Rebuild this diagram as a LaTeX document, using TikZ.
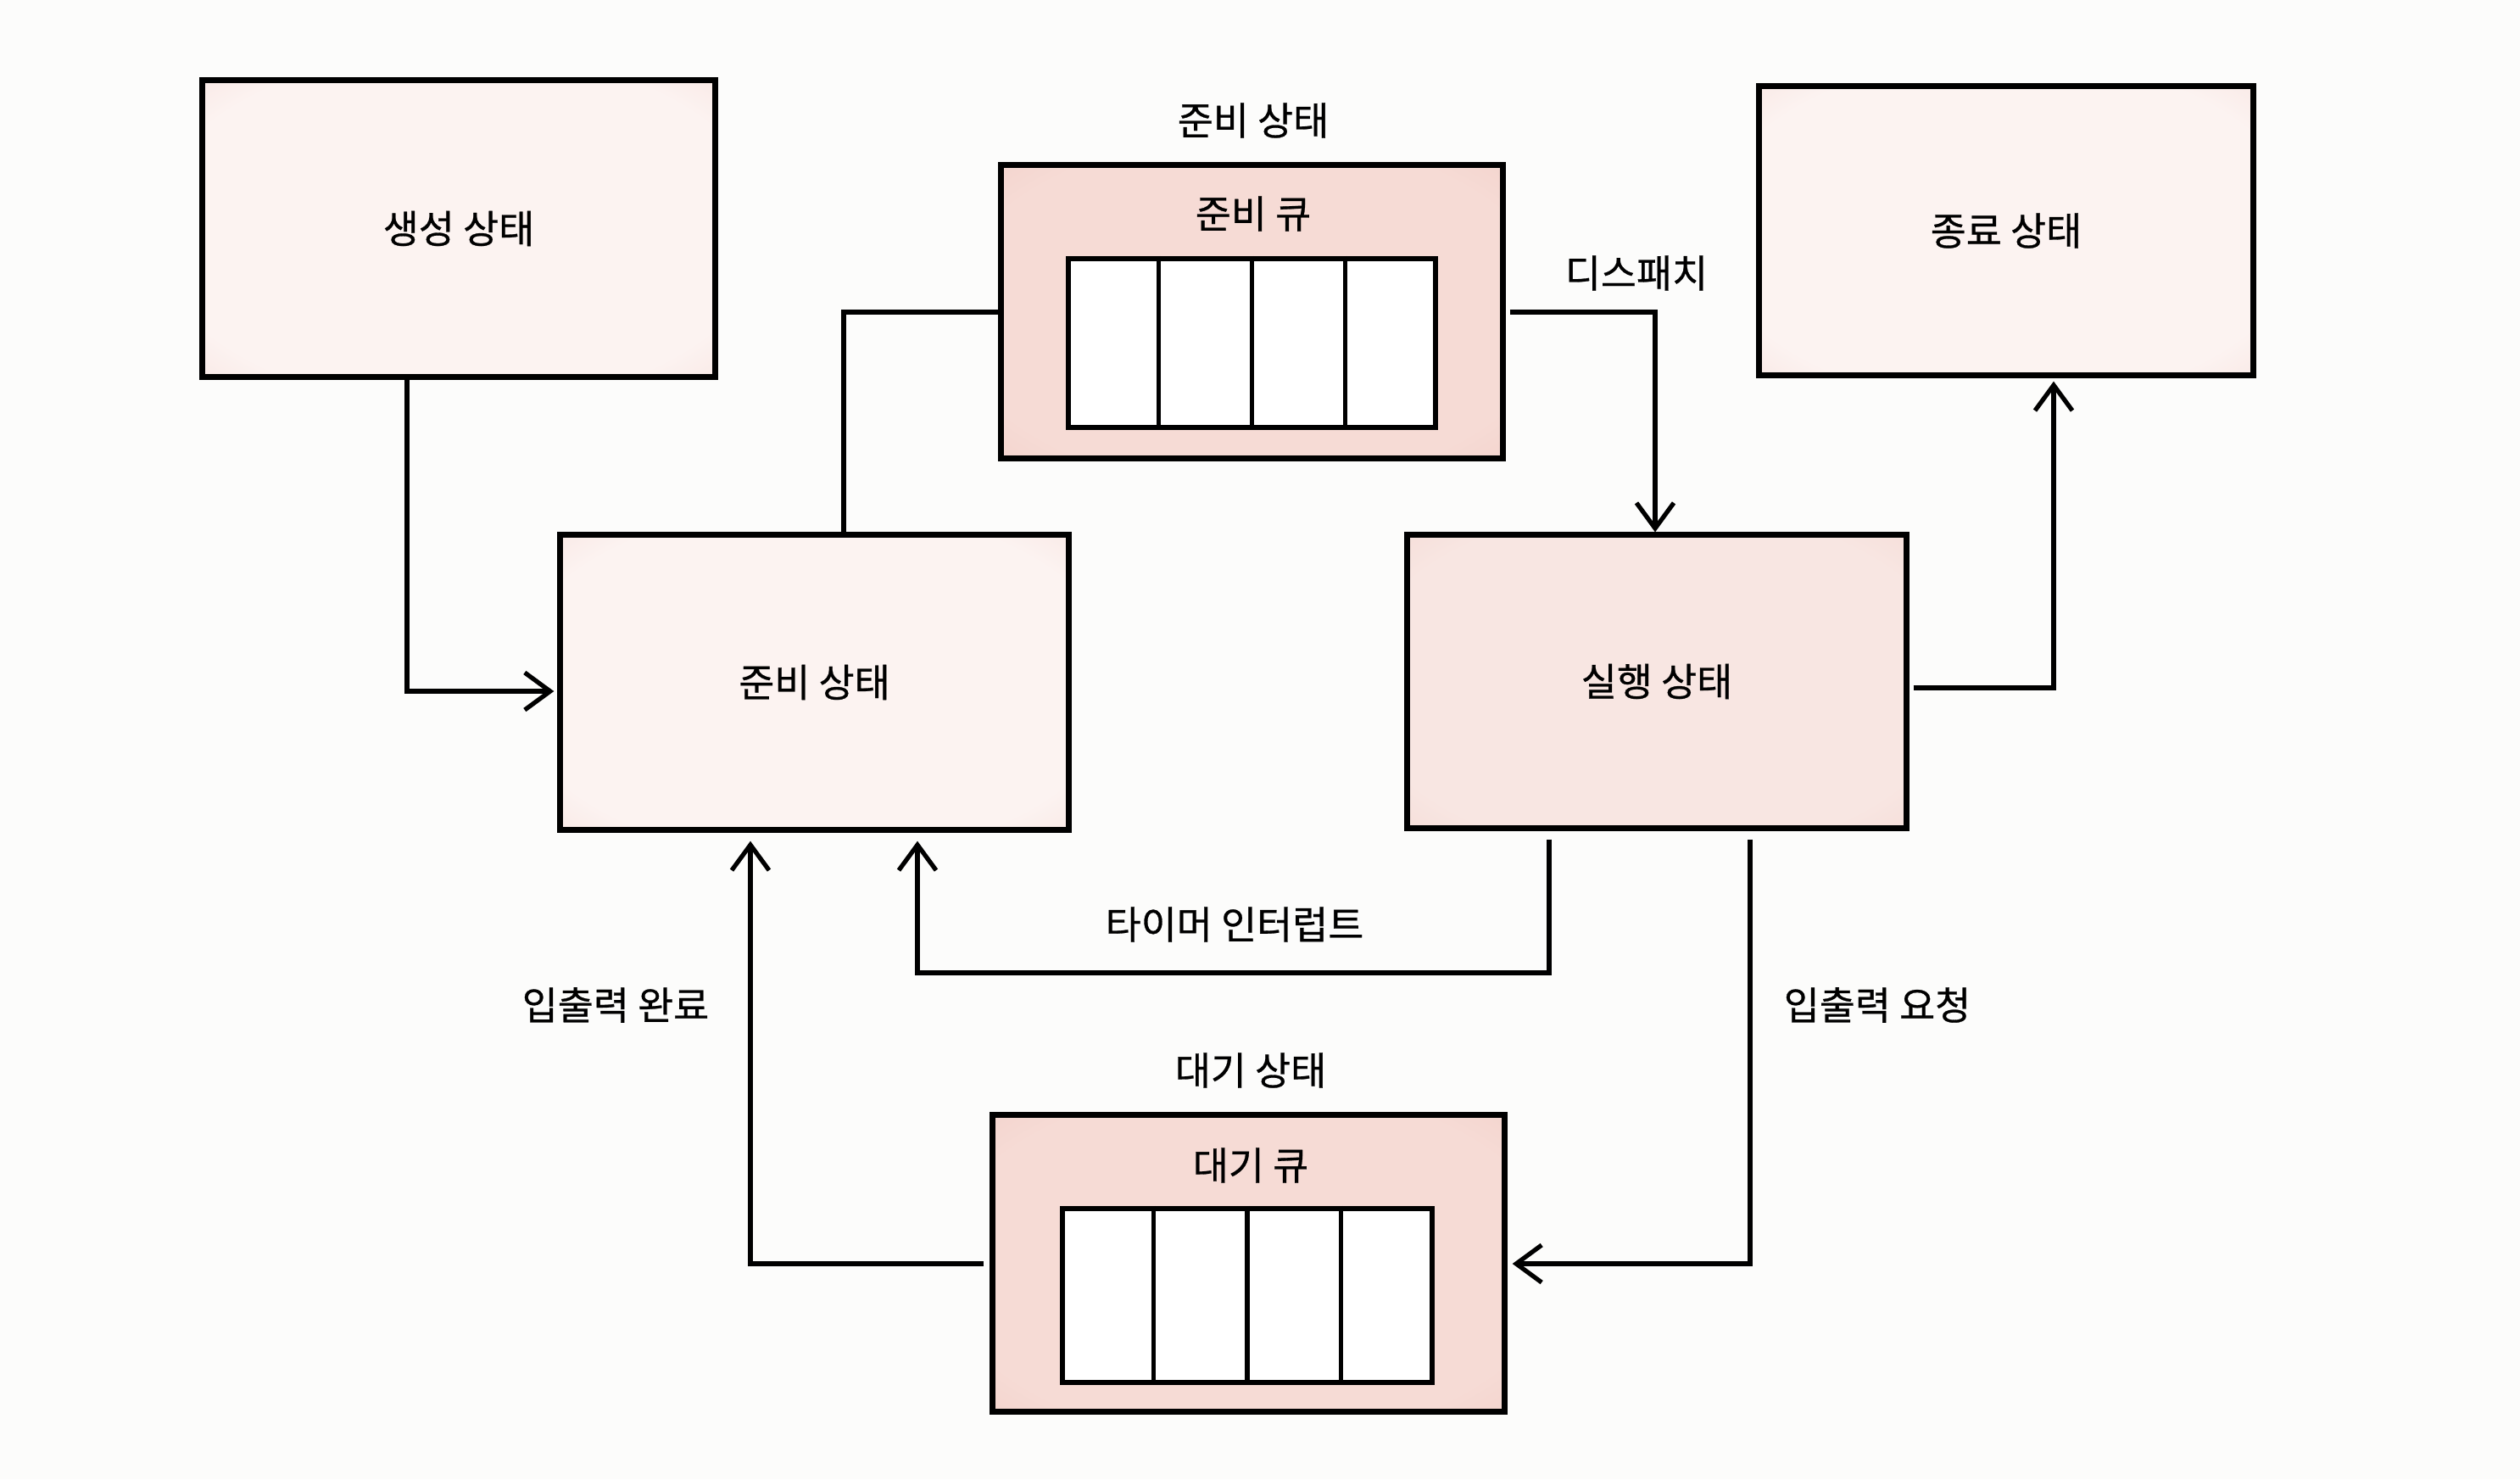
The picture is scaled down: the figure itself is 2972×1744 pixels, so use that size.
\documentclass[tikz,border=0pt]{standalone}
\usepackage{fontspec}
\newfontfamily\kr[FakeBold=0.6]{Noto Sans CJK KR}
\usetikzlibrary{arrows.meta,calc}
\definecolor{bg}{RGB}{252,252,251}
\definecolor{boxin}{RGB}{252,243,241}
\definecolor{boxout}{RGB}{243,211,205}
\definecolor{runin}{RGB}{248,230,226}
\definecolor{runout}{RGB}{241,206,199}
\definecolor{qin}{RGB}{246,219,213}
\definecolor{qout}{RGB}{238,197,190}
\pgfdeclareradialshading{boxshade}{\pgfpoint{0bp}{0bp}}{color(0bp)=(boxin); color(30bp)=(boxin); color(50bp)=(boxout); color(72bp)=(boxout)}
\pgfdeclareradialshading{runshade}{\pgfpoint{0bp}{0bp}}{color(0bp)=(runin); color(30bp)=(runin); color(50bp)=(runout); color(72bp)=(runout)}
\pgfdeclareradialshading{qshade}{\pgfpoint{0bp}{0bp}}{color(0bp)=(qin); color(30bp)=(qin); color(50bp)=(qout); color(72bp)=(qout)}
\begin{document}
\begin{tikzpicture}[x=0.01cm,y=-0.01cm,
  font=\kr\fontsize{13}{15}\selectfont,
  statebox/.style={draw=black, line width=2pt, shading=boxshade, inner sep=0pt},
  runbox/.style={statebox, shading=runshade},
  queuebox/.style={draw=black, line width=2pt, shading=qshade, inner sep=0pt},
  cellbox/.style={draw=black, line width=1.8pt, fill=white, inner sep=0pt},
  cellline/.style={draw=black, line width=1.6pt},
  conn/.style={draw=black, line width=1.5pt, line join=miter},
  arr/.style={conn, -{Straight Barb[length=0.3cm, width=0.44cm, line width=1.5pt]}},
  lbl/.style={inner sep=0pt}]
\fill[bg] (0,0) rectangle (2972,1744);
\useasboundingbox (0,0) rectangle (2972,1744);

% boxes
\node[statebox, minimum width=6.04cm, minimum height=3.49cm] (create) at (541,269.5) {생성 상태};
\node[statebox, minimum width=5.82cm, minimum height=3.40cm] (term) at (2366,272) {종료 상태};
\node[statebox, minimum width=5.99cm, minimum height=3.47cm] (ready) at (960.5,804.5) {준비 상태};
\node[runbox, minimum width=5.88cm, minimum height=3.45cm] (run) at (1954,803.5) {실행 상태};

% ready queue
\node[queuebox, minimum width=5.91cm, minimum height=3.45cm] (readyq) at (1476.5,367.5) {};
\node[lbl] (readyqtitle) at (1478,142) {준비 상태};
\node[lbl] (readyqname) at (1478,252) {준비 큐};
\node[cellbox, minimum width=4.33cm, minimum height=1.99cm] (rq) at (1476.5,404.5) {};
\foreach \i in {1,2,3}
  \draw[cellline] ($(rq.north west)!\i/4!(rq.north east)$) -- ($(rq.south west)!\i/4!(rq.south east)$);

% wait queue
\node[queuebox, minimum width=6.03cm, minimum height=3.49cm] (waitq) at (1472.5,1489.5) {};
\node[lbl] (waitqtitle) at (1475,1262) {대기 상태};
\node[lbl] (waitqname) at (1475,1374) {대기 큐};
\node[cellbox, minimum width=4.36cm, minimum height=2.05cm] (wq) at (1471,1527.5) {};
\foreach \i in {1,2,3}
  \draw[cellline] ($(wq.north west)!\i/4!(wq.north east)$) -- ($(wq.south west)!\i/4!(wq.south east)$);

% connector bends
\coordinate (c1) at (480,815);
\coordinate (c2) at (995,368);
\coordinate (c3) at (1952,368);
\coordinate (c4) at (2422,811);
\coordinate (c5) at (1827,1147);
\coordinate (c6) at (1082,1147);
\coordinate (c7) at (2064,1490);
\coordinate (c8) at (885,1490);

% connectors
\draw[arr, shorten >=0.04cm] (create.south -| c1) |- (ready.west |- c1);
\draw[conn] (ready.north -| c2) |- (readyq.west |- c2);
\draw[arr, shorten <=0.05cm] (readyq.east |- c3) -| (run.north -| c3);
\draw[arr, shorten <=0.05cm, shorten >=0.04cm] (run.east |- c4) -| (term.south -| c4);
\draw[arr, shorten <=0.1cm, shorten >=0.1cm] (run.south -| c5) -- (c5) -- (c6) -- (ready.south -| c6);
\draw[arr, shorten <=0.1cm, shorten >=0.06cm] (run.south -| c7) |- (waitq.east |- c7);
\draw[arr, shorten <=0.07cm, shorten >=0.1cm] (waitq.west |- c8) -| (ready.south -| c8);

% connector labels
\node[lbl] (dispatch) at (1930,322) {디스패치};
\node[lbl] (timer) at (1456,1090) {타이머 인터럽트};
\node[lbl] (iored) at (2214,1185) {입출력 요청};
\node[lbl] (iodone) at (726,1185) {입출력 완료};
\end{tikzpicture}
\end{document}
